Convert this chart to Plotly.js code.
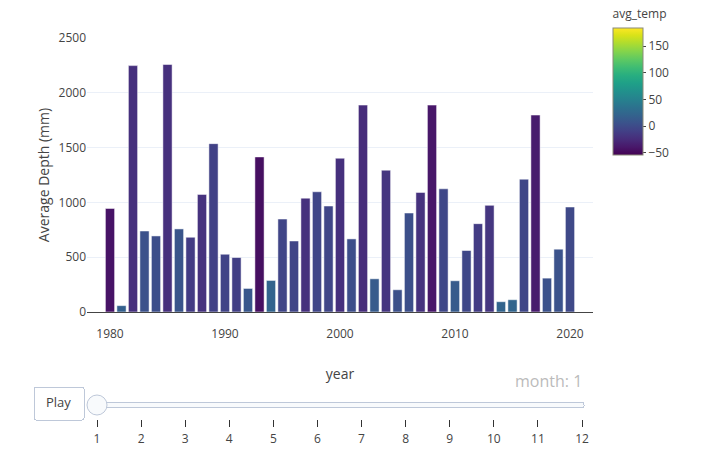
<!DOCTYPE html>
<html>
<head>
<meta charset="utf-8">
<script src="https://cdn.plot.ly/plotly-3.0.1.min.js"></script>
<style>html,body{margin:0;padding:0;background:#fff;}#chart{width:711px;height:461px;}</style>
</head>
<body>
<div id="chart"></div>
<script>
var years = [1980,1981,1982,1983,1984,1985,1986,1987,1988,1989,1990,1991,1992,1993,1994,1995,1996,1997,1998,1999,2000,2001,2002,2003,2004,2005,2006,2007,2008,2009,2010,2011,2012,2013,2014,2015,2016,2017,2018,2019,2020];
var avgDepth = [945,58,2248,739,694,2258,758,682,1073,1536,527,497,215,1415,288,848,648,1039,1097,967,1403,667,1888,303,1294,203,903,1091,1888,1124,285,561,806,973,94,112,1212,1797,309,573,958];
var avgTemp = [-42,18,-22,5,2,-22,8,-12,-20,-8,-6,-10,10,-45,22,-5,-5,-22,-4,-4,-22,2,-24,14,-17,4,3,-20,-40,-3,14,-3,-12,-17,22,23,-3,-36,5,6,-2];
var months = ['1','2','3','4','5','6','7','8','9','10','11','12'];
var tempMin = -54, tempMax = 184;

var trace = {
  type: 'bar',
  x: years,
  y: avgDepth,
  marker: {
    color: avgTemp,
    colorscale: 'Viridis',
    cmin: tempMin,
    cmax: tempMax,
    line: {color: 'white', width: 0.5},
    colorbar: {
      title: {text: 'avg_temp', side: 'top', font: {size: 12}},
      thickness: 30,
      x: 1.02, xanchor: 'left', xpad: 10,
      y: 1.153, yanchor: 'top', ypad: 10,
      lenmode: 'pixels', len: 169,
      outlinewidth: 1, outlinecolor: '#8a8a78',
      ticks: 'outside', ticklen: 3, tickcolor: '#444',
      tickvals: [-50, 0, 50, 100, 150],
      tickfont: {size: 12, color: '#444'}
    }
  },
  hovertemplate: 'year=%{x}<br>avg_depth=%{y}<br>avg_temp=%{marker.color}<extra></extra>'
};

var steps = months.map(function(m){
  return {label: m, method: 'skip', args: [[m]]};
});

var layout = {
  width: 711, height: 461,
  margin: {l: 87, r: 118, t: 38, b: 149, autoexpand: false},
  paper_bgcolor: 'white',
  plot_bgcolor: 'white',
  font: {family: '"Open Sans", verdana, arial, sans-serif', size: 12, color: '#444'},
  bargap: 0.2,
  showlegend: false,
  xaxis: {
    range: [1978, 2022],
    tickvals: [1980, 1990, 2000, 2010, 2020],
    showgrid: false,
    zeroline: false,
    showline: true, linecolor: '#444', linewidth: 1,
    ticks: '',
    ticklabelstandoff: 11,
    title: {text: 'year', font: {size: 14}, standoff: 27}
  },
  yaxis: {
    range: [0, 2500],
    tickvals: [0, 500, 1000, 1500, 2000, 2500],
    gridcolor: '#EBF0F8',
    zeroline: false,
    showline: false,
    ticks: '',
    title: {text: 'Average Depth (mm)', font: {size: 14}}
  },
  updatemenus: [{
    type: 'buttons',
    direction: 'left',
    showactive: false,
    x: -0.008, xanchor: 'right',
    y: 0, yanchor: 'top',
    pad: {r: 0, t: 74},
    font: {size: 13},
    buttons: [{label: 'Play', method: 'skip', args: [null]}]
  }],
  sliders: [{
    active: 0,
    x: 0, xanchor: 'left',
    len: 0.998,
    y: 0, yanchor: 'top',
    pad: {t: 54, b: 10, l: 0, r: 0},
    currentvalue: {prefix: 'month: ', xanchor: 'right', offset: 7, font: {size: 16, color: '#bbbbbb'}},
    font: {size: 12, color: '#444'},
    steps: steps
  }]
};

Plotly.newPlot('chart', [trace], layout, {displayModeBar: false});
</script>
</body>
</html>
